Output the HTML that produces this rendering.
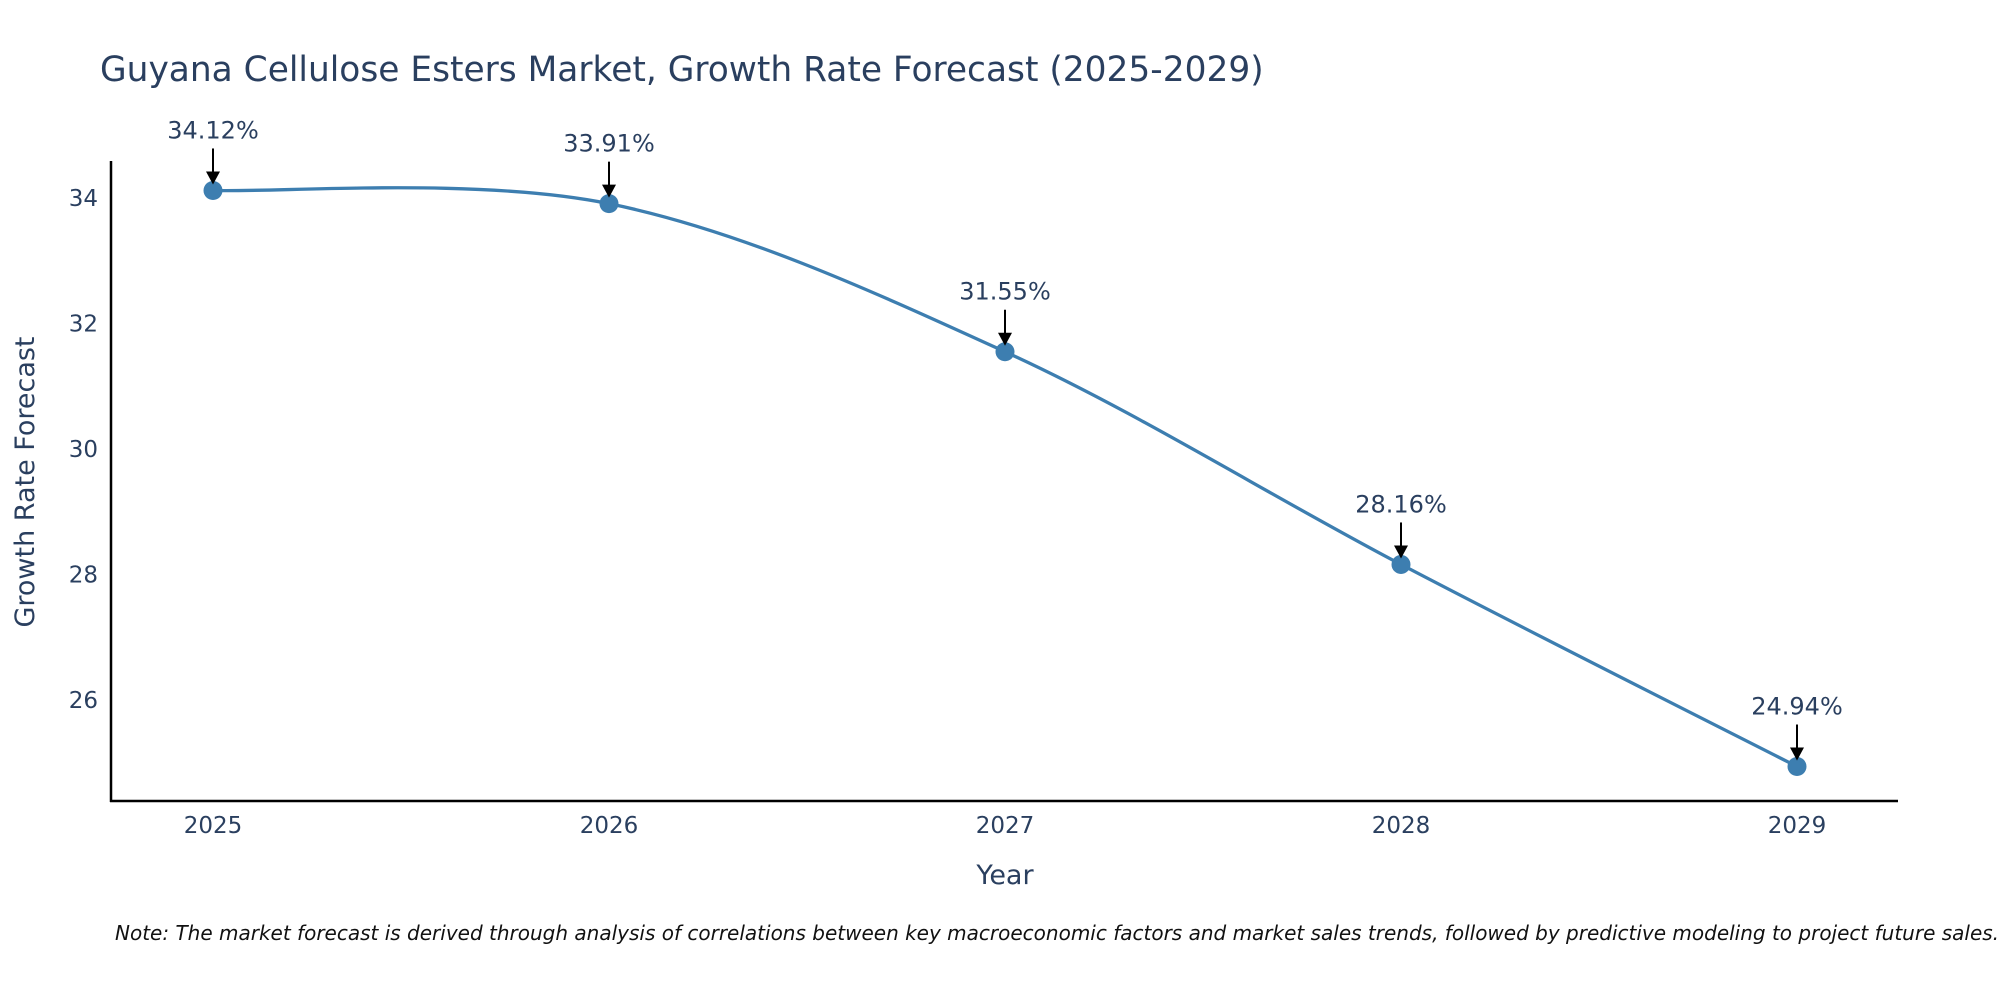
<!DOCTYPE html>
<html><head><meta charset="utf-8"><style>
html,body{margin:0;padding:0;background:#fff;}
svg{display:block;font-family:"DejaVu Sans","Liberation Sans",sans-serif;}
</style></head><body>
<svg id="chart" width="2000" height="1000" viewBox="0 0 2000 1000">
<text x="100" y="81" font-size="34.4" fill="#2a3f5f">Guyana Cellulose Esters Market, Growth Rate Forecast (2025-2029)</text>
<g id="yticks"></g>
<g id="xticks"></g>
<line x1="111" y1="161" x2="111" y2="802" stroke="#000" stroke-width="2.5"/>
<line x1="110" y1="801" x2="1898" y2="801" stroke="#000" stroke-width="2.5"/>
<path id="line" fill="none" stroke="#3d7eb0" stroke-width="3.3"/>
<g id="marks"></g>
<g id="annots"></g>
<text x="1005" y="884" font-size="27" fill="#2a3f5f" text-anchor="middle">Year</text>
<text transform="translate(34,482) rotate(-90)" font-size="27" fill="#2a3f5f" text-anchor="middle">Growth Rate Forecast</text>
<text x="115" y="940" font-size="20" font-style="italic" fill="#111">Note: The market forecast is derived through analysis of correlations between key macroeconomic factors and market sales trends, followed by predictive modeling to project future sales.</text>
</svg>
<script>
const years = ["2025","2026","2027","2028","2029"];
const values = [34.12, 33.91, 31.55, 28.16, 24.94];
const yTickValues = [26, 28, 30, 32, 34];

const NS = "http://www.w3.org/2000/svg";
const xScale = i => 213 + i * 396;
const yScale = v => 198 + (34 - v) * 62.75;
function mk(tag, attrs, parent) { const e = document.createElementNS(NS, tag); for (const k in attrs) e.setAttribute(k, attrs[k]); parent.appendChild(e); return e; }

const yt = document.getElementById('yticks');
yTickValues.forEach(v => {
  const t = mk('text', {x: 98, y: yScale(v) + 8, 'font-size': 23, fill: '#2a3f5f', 'text-anchor': 'end'}, yt);
  t.textContent = v;
  
  
});
const xt = document.getElementById('xticks');
years.forEach((y, i) => {
  const t = mk('text', {x: xScale(i), y: 833, 'font-size': 23, fill: '#2a3f5f', 'text-anchor': 'middle'}, xt);
  t.textContent = y;
  
  
});

const pts = values.map((v, i) => [xScale(i), yScale(v)]);
let d = `M${pts[0][0]},${pts[0][1]}`;
for (let i = 0; i < pts.length - 1; i++) {
  const p0 = pts[Math.max(0, i - 1)], p1 = pts[i], p2 = pts[i + 1], p3 = pts[Math.min(pts.length - 1, i + 2)];
  const c1 = [p1[0] + (p2[0] - p0[0]) / 6, p1[1] + (p2[1] - p0[1]) / 6];
  const c2 = [p2[0] - (p3[0] - p1[0]) / 6, p2[1] - (p3[1] - p1[1]) / 6];
  d += ` C${c1[0]},${c1[1]} ${c2[0]},${c2[1]} ${p2[0]},${p2[1]}`;
}
document.getElementById('line').setAttribute('d', d);

const mg = document.getElementById('marks');
const ag = document.getElementById('annots');
pts.forEach((p, i) => {
  const c = mk('circle', {cx: p[0], cy: p[1], r: 9.5, fill: '#3d7eb0'}, mg);
  
  
  const l = mk('line', {x1: p[0], y1: p[1] - 42, x2: p[0], y2: p[1] - 18, stroke: '#000', 'stroke-width': 2}, ag);
  
  
  const h = mk('polygon', {points: `${p[0]-7},${p[1]-19} ${p[0]+7},${p[1]-19} ${p[0]},${p[1]-6}`, fill: '#000'}, ag);
  
  
  const t = mk('text', {x: p[0], y: p[1] - 52, 'font-size': 24, fill: '#2a3f5f', 'text-anchor': 'middle'}, ag);
  t.textContent = values[i].toFixed(2) + '%';
  
  
});
</script>
</body></html>
